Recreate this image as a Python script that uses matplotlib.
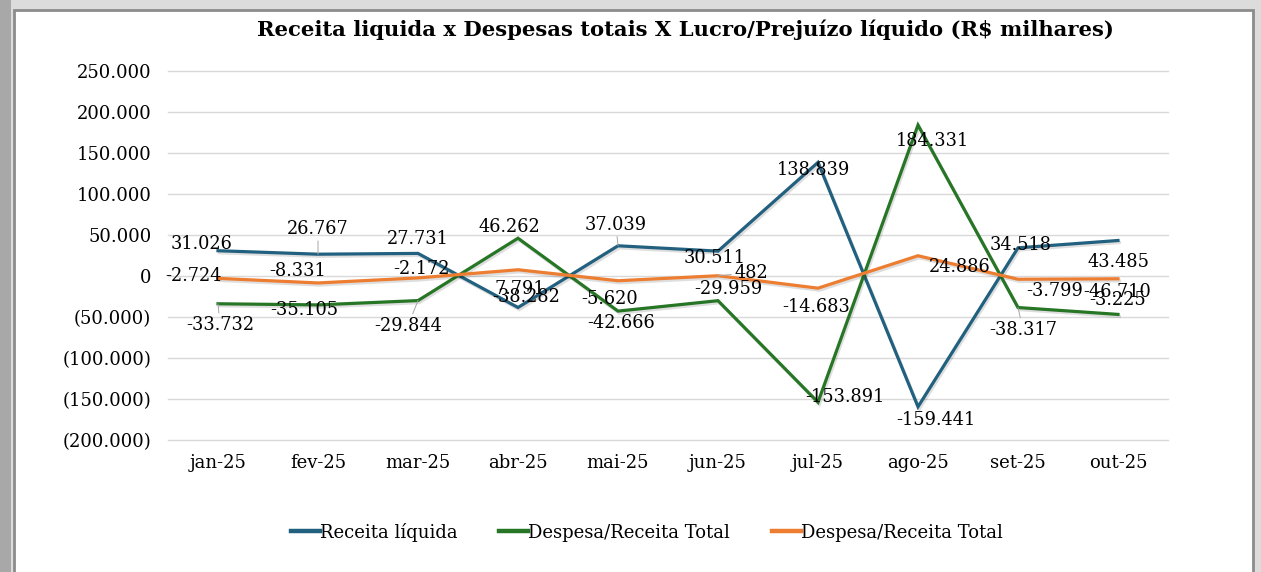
import numpy as np
import matplotlib.pyplot as plt
import matplotlib.patheffects as pe
from matplotlib.patches import Rectangle
from matplotlib.lines import Line2D
from matplotlib.ticker import FuncFormatter

plt.rcParams["font.family"] = ["DejaVu Serif"]

# dados (R$ milhares)
meses = ["jan-25", "fev-25", "mar-25", "abr-25", "mai-25",
         "jun-25", "jul-25", "ago-25", "set-25", "out-25"]
receita = [31026, 26767, 27731, -38282, 37039, 30511, 138839, -159441, 34518, 43485]
despesa = [-33732, -35105, -29844, 46262, -42666, -29959, -153891, 184331, -38317, -46710]
lucro = [-2724, -8331, -2172, 7791, -5620, 482, -14683, 24886, -3799, -3225]
nomes = ["Receita líquida", "Despesa/Receita Total", "Despesa/Receita Total"]
cores = ["#22607f", "#267626", "#ed7d31"]

# deslocamento dos rótulos (pixels)
off_receita = [(-16, 7), (0, 25), (0, 14), (8, 10), (-2, 21),
               (-3, -7), (-4, -8), (18, -13), (3, 3), (0, -21)]
off_despesa = [(2, -21), (-14, -5), (-10, -25), (-9, 11), (3, -12),
               (10, 12), (27, 5), (15, -16), (5, -22), (-1, 22)]
off_lucro = [(-25, 2), (-20, 12), (3, 9), (2, -19), (-8, -18),
             (33, 3), (-2, -19), (42, -11), (37, -12), (0, -21)]
leaders = {(0, 1), (0, 4), (1, 0), (1, 2), (1, 8), (2, 5)}


def br(v):
    s = f"{abs(v):,.0f}".replace(",", ".")
    return s if v >= 0 else "-" + s


def eixo(v, pos):
    s = f"{abs(v):,.0f}".replace(",", ".")
    return s if v >= 0 else f"({s})"


fig = plt.figure(figsize=(12.61, 5.72), dpi=100)
fig.patch.set_facecolor("#dcdcdc")
fig.patches.append(Rectangle((0, 0), 11 / 1261, 1, transform=fig.transFigure,
                             facecolor="#a8a8a8", edgecolor="none", zorder=-3))
fig.patches.append(Rectangle((14 / 1261, -0.05), 1239 / 1261, 1 - 10 / 572 + 0.05,
                             transform=fig.transFigure, facecolor="white",
                             edgecolor="#8c8c8c", linewidth=2, zorder=-2))

ax = fig.add_axes([168 / 1261, 1 - 440 / 572, 1000 / 1261, 368.7 / 572])
ax.set_facecolor("none")
x = np.arange(len(meses))

series = [receita, despesa, lucro]
offsets = [off_receita, off_despesa, off_lucro]
handles = []
for k, (vals, cor, nome) in enumerate(zip(series, cores, nomes)):
    ax.plot(x, vals, color=cor, lw=2.3, zorder=3 + k,
            solid_joinstyle="miter",
            path_effects=[pe.SimpleLineShadow(offset=(1, -1.5), alpha=0.13),
                          pe.Normal()])
    handles.append(Line2D([], [], color=cor, lw=3.2, label=nome))
    for i, v in enumerate(vals):
        dx, dy = offsets[k][i]
        arrow = None
        if (k, i) in leaders:
            arrow = dict(arrowstyle="-", color="#a6a6a6", lw=0.7,
                         shrinkA=0, shrinkB=0)
        ax.annotate(br(v), (i, v), xytext=(dx, dy), textcoords="offset pixels",
                    ha="center", va="center", fontsize=12.8, color="black",
                    zorder=10, arrowprops=arrow)

ax.set_xlim(-0.5, 9.5)
ax.set_ylim(-200000, 250000)
ax.set_yticks(np.arange(-200000, 250001, 50000))
ax.yaxis.set_major_formatter(FuncFormatter(eixo))
ax.set_xticks(x)
ax.set_xticklabels(meses)
ax.tick_params(length=0, labelsize=13, colors="black")
ax.tick_params(axis="y", pad=12)
ax.tick_params(axis="x", pad=10)
ax.grid(axis="y", color="#d9d9d9", lw=1)
for g in ax.get_ygridlines():
    g.set_clip_on(False)
ax.set_axisbelow(True)
for s in ax.spines.values():
    s.set_visible(False)

fig.text(685 / 1261, 1 - 30 / 572, "Receita liquida x Despesas totais X Lucro/Prejuízo líquido (R$ milhares)",
         ha="center", va="center", fontsize=15.2, fontweight="bold")

fig.legend(handles=handles, loc="center", bbox_to_anchor=(647 / 1261, 1 - 532 / 572),
           ncol=3, frameon=False, fontsize=13, handlelength=1.6,
           handletextpad=0.0, columnspacing=2.3)

plt.savefig("out.png", dpi=100, facecolor=fig.get_facecolor())
